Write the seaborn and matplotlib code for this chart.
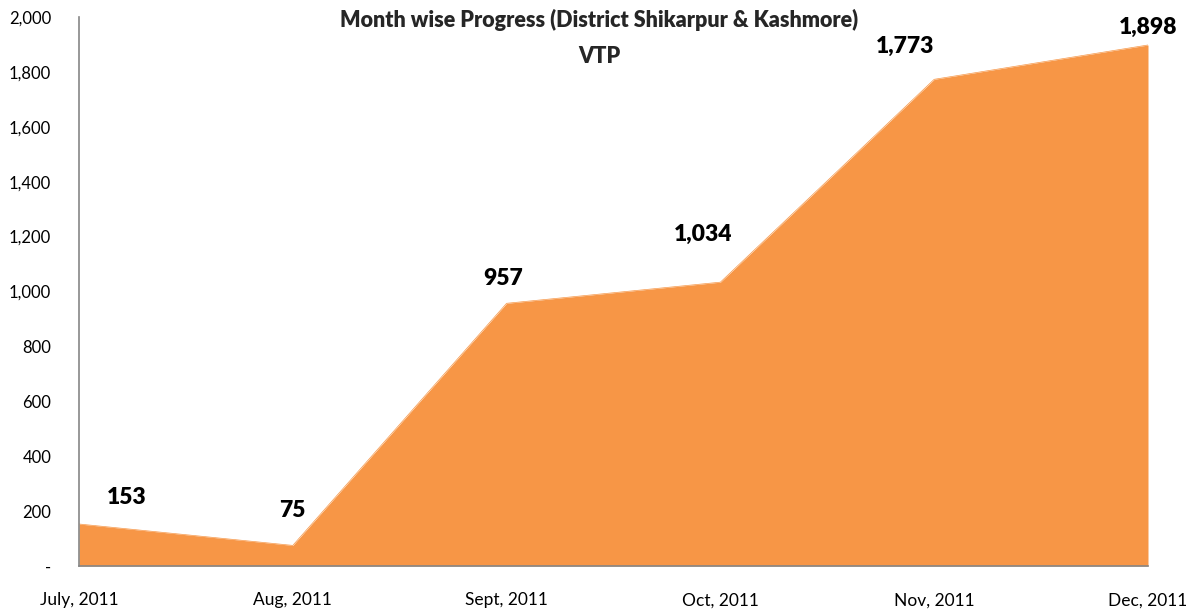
import matplotlib
matplotlib.use("Agg")
import matplotlib.pyplot as plt
import seaborn as sns
import pandas as pd

# chart values
months = ["July, 2011", "Aug, 2011", "Sept, 2011", "Oct, 2011", "Nov, 2011", "Dec, 2011"]
vtp = [153, 75, 957, 1034, 1773, 1898]
y_ticks = [0, 200, 400, 600, 800, 1000, 1200, 1400, 1600, 1800, 2000]
y_tick_labels = ["-", "200", "400", "600", "800", "1,000", "1,200", "1,400", "1,600", "1,800", "2,000"]
title = "Month wise Progress (District Shikarpur & Kashmore)\nVTP"

# label offsets in pixels (dx, dy) as placed in the original
label_offsets = [(48, 27), (0, 35), (-3, 25), (-17, 48), (-29, 33), (0, 18)]

sns.set_style("white")
plt.rcParams['font.family'] = ['Lato', 'DejaVu Sans']

df = pd.DataFrame({"month": months, "vtp": vtp})
df["pos"] = range(len(df))

fig = plt.figure(figsize=(12, 6.16), dpi=100)
ax = fig.add_axes([79 / 1200, 1 - 566 / 616, (1148 - 79) / 1200, (566 - 17) / 616])

ax.fill_between(df["pos"], df["vtp"], 0, color="#F79646", linewidth=0)
sns.lineplot(data=df, x="pos", y="vtp", ax=ax, color="#F79646", linewidth=0.5)

ax.set_xlim(0, len(months) - 1)
ax.set_ylim(0, 2000)
ax.set_xticks(df["pos"])
ax.set_xticklabels(months, fontsize=12.5)
ax.set_yticks(y_ticks)
ax.set_yticklabels(y_tick_labels, fontsize=12)
ax.set_xlabel("")
ax.set_ylabel("")

for side in ["top", "right"]:
    ax.spines[side].set_visible(False)
for side in ["left", "bottom"]:
    ax.spines[side].set_color("#868686")
    ax.spines[side].set_linewidth(1.2)
ax.tick_params(axis="both", direction="out", length=4, width=1.2, color="#868686",
               labelcolor="black")
ax.tick_params(axis="x", pad=15)
ax.tick_params(axis="y", pad=16)

px = 72 / 100
for i, (x, v) in enumerate(zip(df["pos"], df["vtp"])):
    dx, dy = label_offsets[i]
    ax.annotate(f"{v:,}", (x, v), xytext=(dx * px, dy * px), textcoords="offset points",
                ha="center", va="center", fontsize=16.5, fontweight="heavy", color="black",
                annotation_clip=False)

fig.text(599 / 1200, 1 - 38 / 616, title, ha="center", va="center", fontsize=15.5,
         fontweight="heavy", linespacing=1.85)

fig.savefig("out.png", dpi=100)
